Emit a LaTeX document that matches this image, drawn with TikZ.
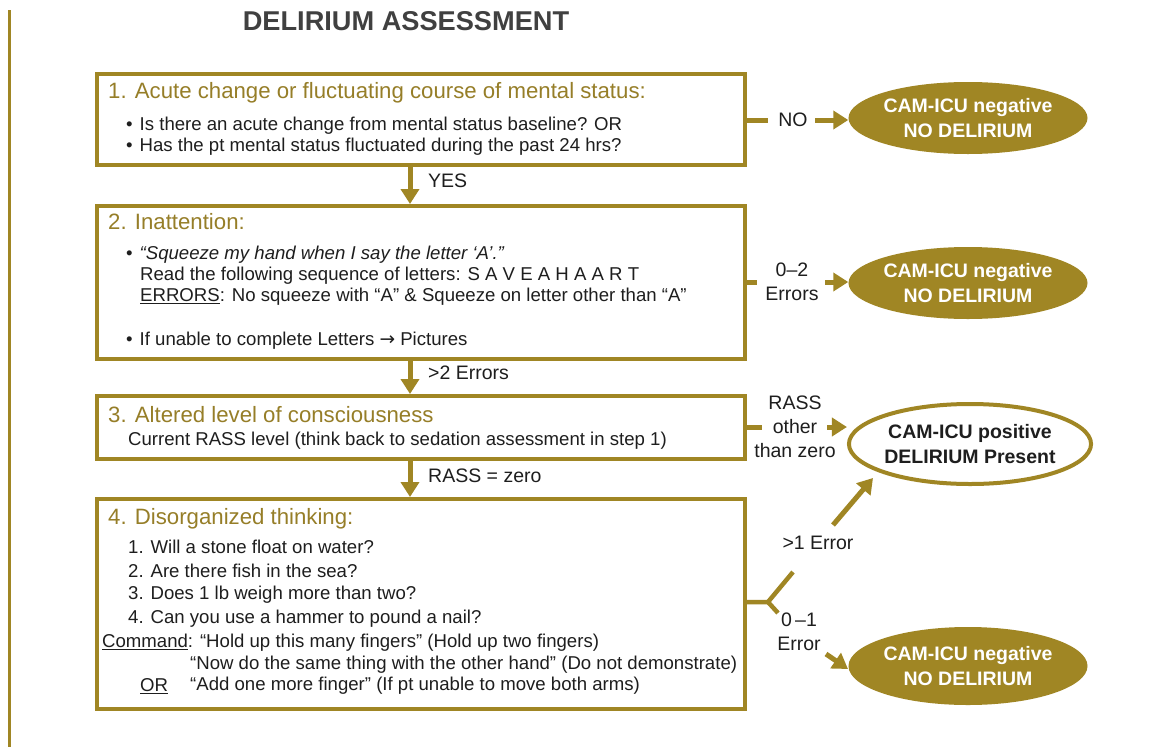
\documentclass[tikz,border=0pt]{standalone}
\usepackage{fontspec}
\setmainfont{Liberation Sans}
\newfontfamily\symfont{DejaVu Sans}
\usetikzlibrary{arrows.meta,shapes.geometric}
\definecolor{camgold}{RGB}{160,134,36}
\definecolor{headgold}{RGB}{150,126,40}
\definecolor{ink}{RGB}{30,30,30}
\tikzset{
  stepbox/.style={draw=camgold, line width=4pt, minimum width=648pt, anchor=north west, inner sep=0pt},
  head/.style={anchor=west, text=headgold, font=\fontsize{22.2}{26}\selectfont, inner sep=0pt},
  body/.style={anchor=west, text=ink, font=\fontsize{18.6}{22}\selectfont, inner sep=0pt},
  lbl/.style={text=ink, font=\fontsize{19.5}{24}\selectfont, inner sep=0pt, align=center},
  flow/.style={draw=camgold, line width=5pt, -{Triangle[width=18pt,length=15pt]}},
  tie/.style={draw=camgold, line width=5pt},
  negative/.style={ellipse, fill=camgold, text=white, font=\fontsize{19.5}{25}\bfseries\selectfont,
    minimum width=226pt, minimum height=72pt, align=center, inner sep=0pt},
  positive/.style={ellipse, draw=camgold, line width=4pt, fill=white, text=ink,
    font=\fontsize{19.5}{25}\bfseries\selectfont, minimum width=214pt, minimum height=80pt, align=center, inner sep=0pt}
}
\begin{document}
\begin{tikzpicture}[x=1pt,y=-1pt]
\useasboundingbox (0,0) rectangle (1159,747);
\fill[white] (0,0) rectangle (1159,747);

% left margin rule and title
\draw[camgold, line width=3pt] (9,10) -- (9,747);
\node[text=ink!85, font=\fontsize{27.2}{30}\bfseries\selectfont, inner sep=0pt] (title) at (406,21) {DELIRIUM ASSESSMENT};

% the four assessment steps
\node[stepbox, minimum height=91pt] (b1) at (95,72) {};
\node[stepbox, minimum height=153pt] (b2) at (95,204) {};
\node[stepbox, minimum height=63pt] (b3) at (95,394) {};
\node[stepbox, minimum height=210pt] (b4) at (95,497) {};

% step 1
\node[head] (h1) at (108,93) {1. Acute change or fluctuating course of mental status:};
\node[body] (t11) at (126,126) {•\hspace{7pt}Is there an acute change from mental status baseline? OR};
\node[body] (t12) at (126,147) {•\hspace{7pt}Has the pt mental status fluctuated during the past 24 hrs?};

% step 2
\node[head] (h2) at (108,222) {2. Inattention:};
\node[body] (t21) at (126,255) {•\hspace{7pt}\itshape “Squeeze my hand when I say the letter ‘A’.”};
\node[body] (t22) at (140,276) {Read the following sequence of letters: S A V E A H A A R T};
\node[body] (t23) at (140,297) {\underline{ERRORS}: No squeeze with “A” \& Squeeze on letter other than “A”};
\node[body] (t24) at (126,341) {•\hspace{7pt}If unable to complete Letters {\symfont →} Pictures};

% step 3
\node[head] (h3) at (108,415) {3. Altered level of consciousness};
\node[body] (t31) at (128,441) {Current RASS level (think back to sedation assessment in step 1)};

% step 4
\node[head] (h4) at (108,519) {4. Disorganized thinking:};
\node[body] (t41) at (128,547) {1. Will a stone float on water?};
\node[body] (t42) at (128,571) {2. Are there fish in the sea?};
\node[body] (t43) at (128,595) {3. Does 1 lb weigh more than two?};
\node[body] (t44) at (128,619) {4. Can you use a hammer to pound a nail?};
\node[body] (t45) at (102,643) {\underline{Command}: “Hold up this many fingers” (Hold up two fingers)};
\node[body] (t46) at (190,665) {“Now do the same thing with the other hand” (Do not demonstrate)};
\node[body] (t47) at (140,686) {\underline{OR}};
\node[body] (t48) at (190,686) {“Add one more finger” (If pt unable to move both arms)};

% outcomes
\node[negative] (e1) at (968,118) {CAM-ICU negative\\NO DELIRIUM};
\node[negative] (e2) at (968,283) {CAM-ICU negative\\NO DELIRIUM};
\node[positive] (e3) at (970,444) {CAM-ICU positive\\DELIRIUM Present};
\node[negative, minimum width=228pt, minimum height=78pt] (e4) at (968,666) {CAM-ICU negative\\NO DELIRIUM};

% downward flow between steps
\coordinate (spine) at (410,0);
\draw[flow] (spine |- b1.south) -- (spine |- b2.north);
\draw[flow] (spine |- b2.south) -- (spine |- b3.north);
\draw[flow] (spine |- b3.south) -- (spine |- b4.north);
\node[lbl, anchor=west] (yes) at (428,181) {YES};
\node[lbl, anchor=west] (gt2) at (428,373) {>2 Errors};
\node[lbl, anchor=west] (rz) at (428,476) {RASS = zero};

% step 1 -> NO
\coordinate (n1) at (768,120);
\coordinate (n2) at (815,120);
\draw[tie] (b1.east |- n1) -- (n1);
\node[lbl] (no) at (793,120) {NO};
\draw[flow] (n2) -- (e1.west |- n2);

% step 2 -> 0-2 errors
\coordinate (m1) at (757,282);
\coordinate (m2) at (825,282);
\draw[tie] (b2.east |- m1) -- (m1);
\node[lbl] (z2) at (792,282) {0--2\\Errors};
\draw[flow] (m2) -- (e2.west |- m2);

% step 3 -> RASS other than zero
\coordinate (r1) at (762,427);
\coordinate (r2) at (827,427);
\draw[tie] (b3.east |- r1) -- (r1);
\node[lbl] (ro) at (795,427) {RASS\\other\\than zero};
\draw[flow] (r2) -- (e3.west |- r2);

% step 4 fork
\coordinate (f0) at (768,602);
\coordinate (fu) at (793,572);
\coordinate (fd) at (778,613);
\draw[tie, line width=4.5pt] (b4.east |- f0) -- (f0) -- (fu);
\draw[tie, line width=4.5pt] (f0) -- (fd);
\node[lbl] (gt1) at (818,543) {>1 Error};
\coordinate (p1) at (833,525);
\coordinate (p2) at (873,478);
\draw[flow] (p1) -- (p2);
\node[lbl] (z1) at (799,632) {0\,--1\\Error};
\coordinate (q1) at (826,654);
\coordinate (q2) at (848,669);
\draw[flow] (q1) -- (q2);
\end{tikzpicture}
\end{document}
